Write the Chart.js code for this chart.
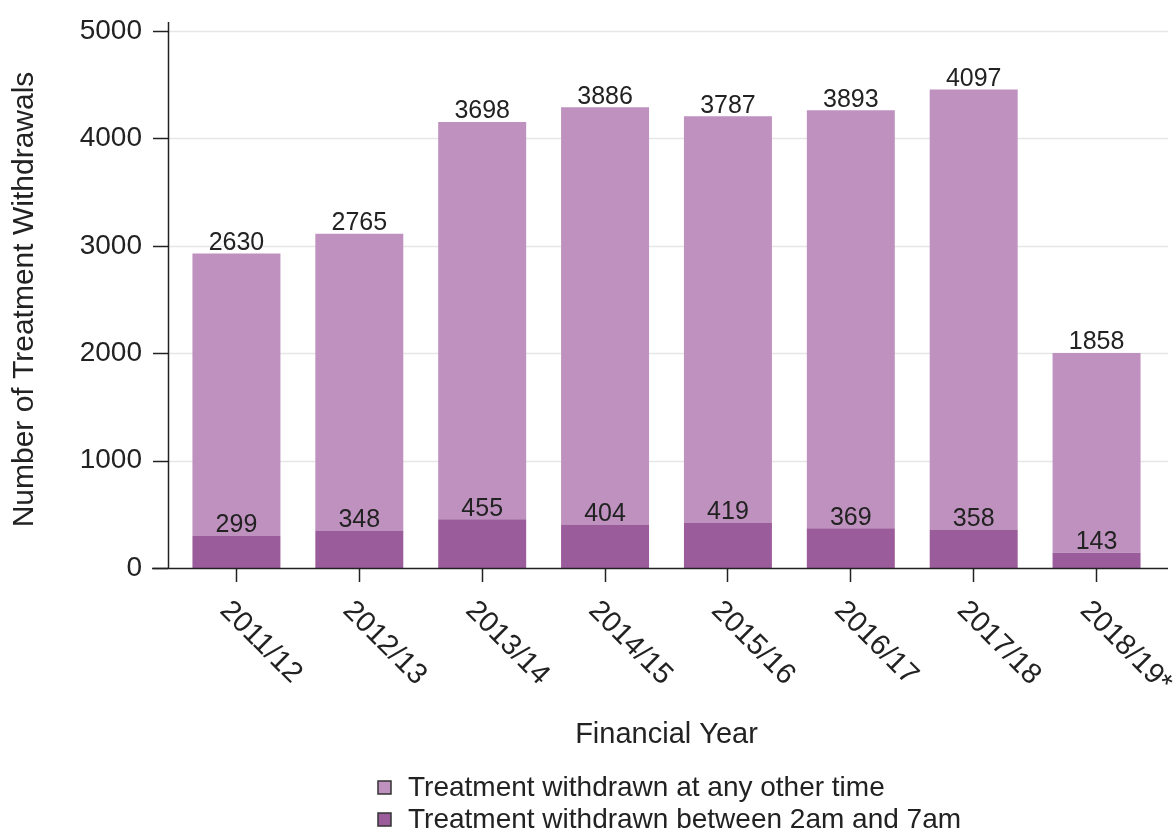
<!DOCTYPE html>
<html>
<head>
<meta charset="utf-8">
<script src="https://cdn.jsdelivr.net/npm/chart.js@4.4.1/dist/chart.umd.min.js"></script>
<style>
  html, body { margin: 0; padding: 0; background: #fff; }
  canvas { display: block; }
</style>
</head>
<body>
<canvas id="withdrawalsChart" width="1176" height="834"></canvas>
<script>
// Chart data
const years = ['2011/12', '2012/13', '2013/14', '2014/15', '2015/16', '2016/17', '2017/18', '2018/19*'];
const between2and7 = [299, 348, 455, 404, 419, 369, 358, 143];
const otherTime = [2630, 2765, 3698, 3886, 3787, 3893, 4097, 1858];
const yTicks = [0, 1000, 2000, 3000, 4000, 5000];

const legendItems = [
    { label: 'Treatment withdrawn at any other time', color: '#bf91bf' },
    { label: 'Treatment withdrawn between 2am and 7am', color: '#9b5c9b' }
];

const FONT = '"Liberation Sans", Arial, sans-serif';
const INK = '#222';

// Draws gridlines, axis lines and tick marks on the y side
const axisPlugin = {
    id: 'axisPlugin',
    beforeDatasetsDraw(chart) {
        const { ctx, scales } = chart;
        ctx.save();
        ctx.strokeStyle = '#e6e6e6';
        ctx.lineWidth = 1.5;
        yTicks.forEach(v => {
            if (v === 0) return;
            const y = Math.round(scales.y.getPixelForValue(v)) + 0.5;
            ctx.beginPath();
            ctx.moveTo(168, y);
            ctx.lineTo(1168, y);
            ctx.stroke();
        });
        ctx.restore();
    },
    afterDraw(chart) {
        const { ctx, scales } = chart;
        const y0 = Math.round(scales.y.getPixelForValue(0)) + 0.5;
        ctx.save();
        ctx.strokeStyle = INK;
        ctx.lineWidth = 1.5;
        // y axis line
        ctx.beginPath();
        ctx.moveTo(168.5, 22);
        ctx.lineTo(168.5, y0);
        ctx.stroke();
        // x axis line
        ctx.beginPath();
        ctx.moveTo(152, y0);
        ctx.lineTo(1168, y0);
        ctx.stroke();
        // y tick marks
        yTicks.forEach(v => {
            const y = Math.round(scales.y.getPixelForValue(v)) + 0.5;
            ctx.beginPath();
            ctx.moveTo(153, y);
            ctx.lineTo(168, y);
            ctx.stroke();
        });

        // rotated x labels
        ctx.fillStyle = INK;
        ctx.font = '29px ' + FONT;
        ctx.textAlign = 'left';
        ctx.textBaseline = 'middle';
        years.forEach((label, i) => {
            const x = scales.x.getPixelForTick(i);
            ctx.save();
            ctx.translate(x - 12, 606);
            ctx.rotate(Math.PI / 4);
            ctx.fillText(label, 0, 0);
            ctx.restore();
        });

        // legend
        ctx.font = '28px ' + FONT;
        legendItems.forEach((item, i) => {
            const cy = 788 + i * 32;
            ctx.fillStyle = item.color;
            ctx.fillRect(378, cy - 7, 13, 13);
            ctx.strokeStyle = '#333';
            ctx.lineWidth = 1.5;
            ctx.strokeRect(378, cy - 7, 13, 13);
            ctx.fillStyle = INK;
            ctx.fillText(item.label, 408, cy);
        });
        ctx.restore();
    }
};

// Value labels above each segment
const valueLabelPlugin = {
    id: 'valueLabels',
    afterDatasetsDraw(chart) {
        const { ctx } = chart;
        ctx.save();
        ctx.fillStyle = INK;
        ctx.font = '25px ' + FONT;
        ctx.textAlign = 'center';
        ctx.textBaseline = 'bottom';
        chart.data.datasets.forEach((ds, di) => {
            const meta = chart.getDatasetMeta(di);
            meta.data.forEach((bar, i) => {
                ctx.fillText(ds.data[i], bar.x, bar.y + 2);
            });
        });
        ctx.restore();
    }
};

const ctx = document.getElementById('withdrawalsChart');

new Chart(ctx, {
    type: 'bar',
    data: {
        labels: years,
        datasets: [
            {
                label: legendItems[1].label,
                data: between2and7,
                backgroundColor: legendItems[1].color,
                barPercentage: 0.716,
                categoryPercentage: 1
            },
            {
                label: legendItems[0].label,
                data: otherTime,
                backgroundColor: legendItems[0].color,
                barPercentage: 0.716,
                categoryPercentage: 1
            }
        ]
    },
    options: {
        responsive: false,
        animation: false,
        layout: {
            padding: { top: 31, right: 18, bottom: 82, left: 0 }
        },
        plugins: {
            legend: { display: false },
            tooltip: { enabled: false }
        },
        scales: {
            x: {
                stacked: true,
                grid: {
                    drawOnChartArea: false,
                    drawTicks: true,
                    tickLength: 14,
                    tickColor: INK,
                    tickWidth: 1.5,
                    offset: false
                },
                border: { display: false },
                ticks: { display: false },
                title: {
                    display: true,
                    text: 'Financial Year',
                    color: INK,
                    font: { family: FONT, size: 29 },
                    padding: { top: 0, bottom: 0 }
                },
                afterFit: (scale) => {
                    scale.height = 184;
                    scale.paddingLeft = 0;
                    scale.paddingRight = 0;
                }
            },
            y: {
                stacked: true,
                min: 0,
                max: 5000,
                grid: { display: false },
                border: { display: false },
                ticks: {
                    stepSize: 1000,
                    padding: 25,
                    color: INK,
                    font: { family: FONT, size: 28 },
                    callback: (value) => String(value)
                },
                title: {
                    display: true,
                    text: 'Number of Treatment Withdrawals',
                    color: INK,
                    font: { family: FONT, size: 30 },
                    padding: { top: 7, bottom: 0 }
                },
                afterFit: (scale) => {
                    scale.width = 175;
                    scale.paddingTop = 0;
                    scale.paddingBottom = 0;
                }
            }
        }
    },
    plugins: [axisPlugin, valueLabelPlugin]
});
</script>
</body>
</html>
